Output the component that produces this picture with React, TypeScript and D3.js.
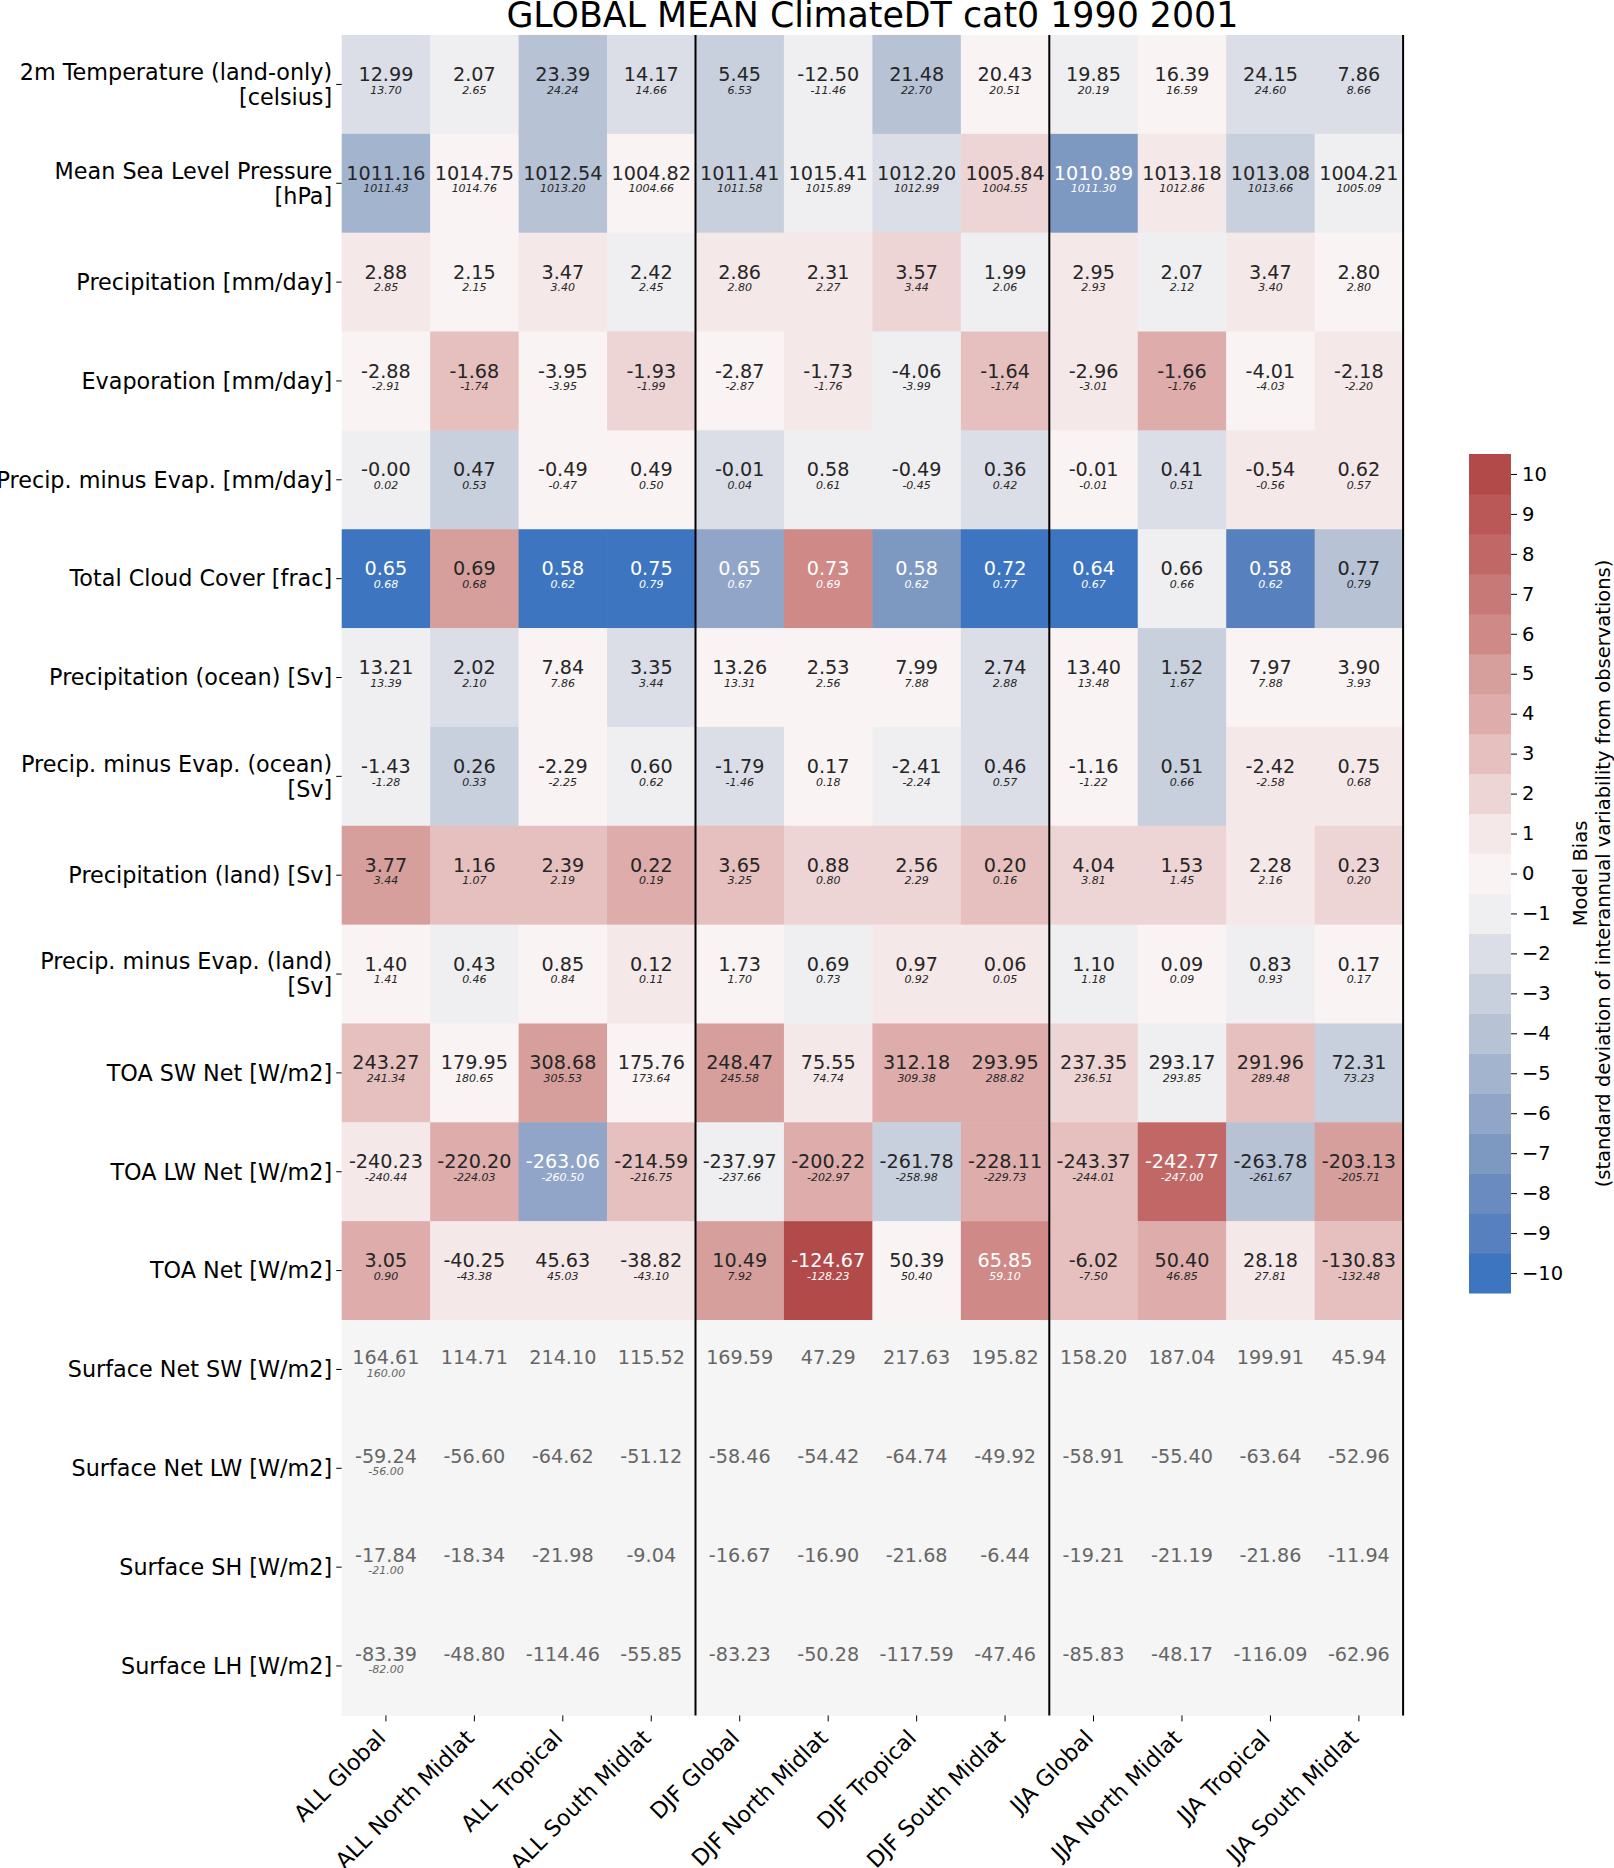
import React, { useEffect, useRef } from 'react';
import * as d3 from 'd3';

const chartTitle = 'GLOBAL MEAN ClimateDT cat0 1990 2001';

const variables = [
  '2m Temperature (land-only)\n[celsius]',
  'Mean Sea Level Pressure\n[hPa]',
  'Precipitation [mm/day]',
  'Evaporation [mm/day]',
  'Precip. minus Evap. [mm/day]',
  'Total Cloud Cover [frac]',
  'Precipitation (ocean) [Sv]',
  'Precip. minus Evap. (ocean)\n[Sv]',
  'Precipitation (land) [Sv]',
  'Precip. minus Evap. (land)\n[Sv]',
  'TOA SW Net [W/m2]',
  'TOA LW Net [W/m2]',
  'TOA Net [W/m2]',
  'Surface Net SW [W/m2]',
  'Surface Net LW [W/m2]',
  'Surface SH [W/m2]',
  'Surface LH [W/m2]',
];

const regions = [
  'ALL Global', 'ALL North Midlat', 'ALL Tropical', 'ALL South Midlat',
  'DJF Global', 'DJF North Midlat', 'DJF Tropical', 'DJF South Midlat',
  'JJA Global', 'JJA North Midlat', 'JJA Tropical', 'JJA South Midlat',
];

// model values (big numbers in each cell)
const modelValues: number[][] = [
  [12.99, 2.07, 23.39, 14.17, 5.45, -12.50, 21.48, 20.43, 19.85, 16.39, 24.15, 7.86],
  [1011.16, 1014.75, 1012.54, 1004.82, 1011.41, 1015.41, 1012.20, 1005.84, 1010.89, 1013.18, 1013.08, 1004.21],
  [2.88, 2.15, 3.47, 2.42, 2.86, 2.31, 3.57, 1.99, 2.95, 2.07, 3.47, 2.80],
  [-2.88, -1.68, -3.95, -1.93, -2.87, -1.73, -4.06, -1.64, -2.96, -1.66, -4.01, -2.18],
  [-0.00, 0.47, -0.49, 0.49, -0.01, 0.58, -0.49, 0.36, -0.01, 0.41, -0.54, 0.62],
  [0.65, 0.69, 0.58, 0.75, 0.65, 0.73, 0.58, 0.72, 0.64, 0.66, 0.58, 0.77],
  [13.21, 2.02, 7.84, 3.35, 13.26, 2.53, 7.99, 2.74, 13.40, 1.52, 7.97, 3.90],
  [-1.43, 0.26, -2.29, 0.60, -1.79, 0.17, -2.41, 0.46, -1.16, 0.51, -2.42, 0.75],
  [3.77, 1.16, 2.39, 0.22, 3.65, 0.88, 2.56, 0.20, 4.04, 1.53, 2.28, 0.23],
  [1.40, 0.43, 0.85, 0.12, 1.73, 0.69, 0.97, 0.06, 1.10, 0.09, 0.83, 0.17],
  [243.27, 179.95, 308.68, 175.76, 248.47, 75.55, 312.18, 293.95, 237.35, 293.17, 291.96, 72.31],
  [-240.23, -220.20, -263.06, -214.59, -237.97, -200.22, -261.78, -228.11, -243.37, -242.77, -263.78, -203.13],
  [3.05, -40.25, 45.63, -38.82, 10.49, -124.67, 50.39, 65.85, -6.02, 50.40, 28.18, -130.83],
  [164.61, 114.71, 214.10, 115.52, 169.59, 47.29, 217.63, 195.82, 158.20, 187.04, 199.91, 45.94],
  [-59.24, -56.60, -64.62, -51.12, -58.46, -54.42, -64.74, -49.92, -58.91, -55.40, -63.64, -52.96],
  [-17.84, -18.34, -21.98, -9.04, -16.67, -16.90, -21.68, -6.44, -19.21, -21.19, -21.86, -11.94],
  [-83.39, -48.80, -114.46, -55.85, -83.23, -50.28, -117.59, -47.46, -85.83, -48.17, -116.09, -62.96],
];

// observed values (small italic numbers)
const _ = null;
const obsValues: (number | null)[][] = [
  [13.70, 2.65, 24.24, 14.66, 6.53, -11.46, 22.70, 20.51, 20.19, 16.59, 24.60, 8.66],
  [1011.43, 1014.76, 1013.20, 1004.66, 1011.58, 1015.89, 1012.99, 1004.55, 1011.30, 1012.86, 1013.66, 1005.09],
  [2.85, 2.15, 3.40, 2.45, 2.80, 2.27, 3.44, 2.06, 2.93, 2.12, 3.40, 2.80],
  [-2.91, -1.74, -3.95, -1.99, -2.87, -1.76, -3.99, -1.74, -3.01, -1.76, -4.03, -2.20],
  [0.02, 0.53, -0.47, 0.50, 0.04, 0.61, -0.45, 0.42, -0.01, 0.51, -0.56, 0.57],
  [0.68, 0.68, 0.62, 0.79, 0.67, 0.69, 0.62, 0.77, 0.67, 0.66, 0.62, 0.79],
  [13.39, 2.10, 7.86, 3.44, 13.31, 2.56, 7.88, 2.88, 13.48, 1.67, 7.88, 3.93],
  [-1.28, 0.33, -2.25, 0.62, -1.46, 0.18, -2.24, 0.57, -1.22, 0.66, -2.58, 0.68],
  [3.44, 1.07, 2.19, 0.19, 3.25, 0.80, 2.29, 0.16, 3.81, 1.45, 2.16, 0.20],
  [1.41, 0.46, 0.84, 0.11, 1.70, 0.73, 0.92, 0.05, 1.18, 0.09, 0.93, 0.17],
  [241.34, 180.65, 305.53, 173.64, 245.58, 74.74, 309.38, 288.82, 236.51, 293.85, 289.48, 73.23],
  [-240.44, -224.03, -260.50, -216.75, -237.66, -202.97, -258.98, -229.73, -244.01, -247.00, -261.67, -205.71],
  [0.90, -43.38, 45.03, -43.10, 7.92, -128.23, 50.40, 59.10, -7.50, 46.85, 27.81, -132.48],
  [160.00, _, _, _, _, _, _, _, _, _, _, _],
  [-56.00, _, _, _, _, _, _, _, _, _, _, _],
  [-21.00, _, _, _, _, _, _, _, _, _, _, _],
  [-82.00, _, _, _, _, _, _, _, _, _, _, _],
];

// model bias in units of interannual std dev (null = no variability available)
const biasValues: (number | null)[][] = [
  [-2, -1, -4, -2, -3, -1, -4, 0, -1, 0, -2, -2],
  [-5, 0, -4, 0, -3, -1, -2, 2, -7, 1, -3, -1],
  [1, 0, 1, -1, 1, 1, 2, -1, 1, -1, 1, 0],
  [0, 3, 0, 2, 0, 1, -1, 3, 1, 4, 0, 1],
  [-1, -3, 0, 0, -2, -1, -1, -2, 0, -2, 1, 1],
  [-10, 5, -10, -10, -6, 6, -7, -10, -10, -1, -9, -4],
  [-1, -2, 0, -2, 0, 0, 0, -2, 0, -3, 0, 0],
  [-1, -3, 0, -1, -2, 0, -1, -2, 0, -3, 1, 1],
  [5, 3, 3, 4, 3, 2, 2, 3, 2, 2, 1, 2],
  [0, -1, 0, 1, 0, -1, 1, 1, -1, 0, -1, 0],
  [3, 0, 5, 0, 5, 1, 4, 4, 2, -1, 3, -3],
  [1, 4, -6, 3, -1, 4, -3, 4, 3, 8, -4, 5],
  [4, 1, 1, 1, 5, 10, 0, 6, 3, 4, 1, 3],
  [_, _, _, _, _, _, _, _, _, _, _, _],
  [_, _, _, _, _, _, _, _, _, _, _, _],
  [_, _, _, _, _, _, _, _, _, _, _, _],
  [_, _, _, _, _, _, _, _, _, _, _, _],
];

const biasTicks = [-10, -9, -8, -7, -6, -5, -4, -3, -2, -1, 0, 1, 2, 3, 4, 5, 6, 7, 8, 9, 10];

// 21 discrete colours, -10 ... 10
const palette = [
  '#3e75c0', '#5780be', '#698bbf', '#7d98c1', '#90a5c7', '#a2b4ce', '#b7c2d5',
  '#c9d0dd', '#dbdee6', '#efeff1', '#f9f3f3', '#f5e8e8', '#eed5d5', '#e5c0be',
  '#ddacab', '#d69f9c', '#cf8987', '#c77977', '#c16867', '#ba5858', '#b24a4a',
];

// vertical separators drawn after these region indices
const separators = [4, 8, 12];

const FONT = '"DejaVu Sans", sans-serif';

const fmt = (v: number) => (v < 0 || Object.is(v, -0) ? '-' : '') + Math.abs(v).toFixed(2);

const luminance = (c: string) => {
  const { r, g, b } = d3.rgb(c);
  const lin = (v: number) => {
    const s = v / 255;
    return s <= 0.03928 ? s / 12.92 : Math.pow((s + 0.055) / 1.055, 2.4);
  };
  return 0.2126 * lin(r) + 0.7152 * lin(g) + 0.0722 * lin(b);
};

const BiasHeatmap: React.FC = () => {
  const svgRef = useRef<SVGSVGElement>(null);

  useEffect(() => {
    if (!svgRef.current) return;

    const width = 1614;
    const height = 1868;
    const left = 341.7, right = 1403.1, top = 35, bottom = 1715.4;

    const svg = d3.select(svgRef.current)
      .attr('width', width)
      .attr('height', height);

    svg.selectAll('*').remove();

    const x = d3.scaleBand<string>().domain(regions).range([left, right]);
    const y = d3.scaleBand<string>().domain(variables).range([top, bottom]);
    const color = d3.scaleQuantize<string>().domain([-10.5, 10.5]).range(palette);

    const cellW = x.bandwidth();
    const cellH = y.bandwidth();

    const cells = variables.flatMap((v, r) => regions.map((reg, c) => ({
      v, reg,
      model: modelValues[r][c],
      obs: obsValues[r][c],
      bias: biasValues[r][c],
    })));

    const g = svg.append('g');

    g.selectAll('rect.cell')
      .data(cells)
      .enter().append('rect')
      .attr('class', 'cell')
      .attr('x', d => x(d.reg)!)
      .attr('y', d => y(d.v)!)
      .attr('width', cellW + 0.5)
      .attr('height', cellH + 0.5)
      .attr('fill', d => d.bias === null ? '#f5f5f5' : color(d.bias));

    const textColor = (d: typeof cells[number]) => {
      if (d.bias === null) return '#666666';
      return luminance(color(d.bias)) <= 0.408 ? '#ffffff' : '#262626';
    };

    g.selectAll('text.model')
      .data(cells)
      .enter().append('text')
      .attr('class', 'model')
      .attr('x', d => x(d.reg)! + cellW / 2)
      .attr('y', d => y(d.v)! + cellH / 2 + (d.bias === null ? -5.2 : -3.4))
      .attr('text-anchor', 'middle')
      .style('font-family', FONT)
      .style('font-size', '19.2px')
      .attr('fill', textColor)
      .text(d => fmt(d.model));

    g.selectAll('text.obs')
      .data(cells.filter(d => d.obs !== null))
      .enter().append('text')
      .attr('class', 'obs')
      .attr('x', d => x(d.reg)! + cellW / 2)
      .attr('y', d => y(d.v)! + cellH / 2 + (d.bias === null ? 7.2 : 9.2))
      .attr('text-anchor', 'middle')
      .style('font-family', FONT)
      .style('font-size', '11px')
      .style('font-style', 'italic')
      .attr('fill', textColor)
      .text(d => fmt(d.obs as number));

    // separators
    g.selectAll('line.sep')
      .data(separators)
      .enter().append('line')
      .attr('class', 'sep')
      .attr('x1', i => left + i * x.step())
      .attr('x2', i => left + i * x.step())
      .attr('y1', top)
      .attr('y2', bottom)
      .attr('stroke', '#000')
      .attr('stroke-width', 2);

    // y axis
    const yAxis = svg.append('g')
      .attr('transform', `translate(${left},0)`)
      .call(d3.axisLeft(y).tickSize(5.5).tickPadding(4));
    yAxis.select('.domain').remove();
    yAxis.selectAll('line').attr('stroke', '#000');
    yAxis.selectAll<SVGTextElement, string>('text')
      .style('font-family', FONT)
      .style('font-size', '22.3px')
      .attr('fill', '#000')
      .each(function (d) {
        const lines = d.split('\n');
        const t = d3.select(this);
        t.text(null).attr('dy', null);
        lines.forEach((line, i) => {
          t.append('tspan')
            .attr('x', -9.5)
            .attr('y', (i - (lines.length - 1) / 2) * 25)
            .attr('dy', '0.35em')
            .text(line);
        });
      });

    // x axis
    const xAxis = svg.append('g')
      .attr('transform', `translate(0,${bottom})`)
      .call(d3.axisBottom(x).tickSize(6));
    xAxis.select('.domain').remove();
    xAxis.selectAll('line').attr('stroke', '#000');
    xAxis.selectAll('text')
      .attr('x', 0)
      .attr('y', 0)
      .attr('dy', null)
      .attr('transform', 'translate(1,24) rotate(-45)')
      .attr('text-anchor', 'end')
      .style('font-family', FONT)
      .style('font-size', '22.3px')
      .attr('fill', '#000');

    // title
    svg.append('text')
      .attr('x', (left + right) / 2)
      .attr('y', 27)
      .attr('text-anchor', 'middle')
      .style('font-family', FONT)
      .style('font-size', '34.8px')
      .attr('fill', '#000')
      .text(chartTitle);

    // colorbar
    const cbX = 1469, cbW = 42;
    const yc = d3.scaleLinear().domain([-10.5, 10.5]).range([1293, 454]);

    svg.append('g')
      .selectAll('rect')
      .data(biasTicks)
      .enter().append('rect')
      .attr('x', cbX)
      .attr('y', d => yc(d + 0.5))
      .attr('width', cbW)
      .attr('height', d => yc(d - 0.5) - yc(d + 0.5) + 0.5)
      .attr('fill', d => color(d));

    const cAxis = svg.append('g')
      .attr('transform', `translate(${cbX + cbW},0)`)
      .call(d3.axisRight(yc).tickValues(biasTicks).tickSize(6).tickPadding(5)
        .tickFormat(d => (+d < 0 ? '\u2212' + Math.abs(+d) : String(d))));
    cAxis.select('.domain').remove();
    cAxis.selectAll('line').attr('stroke', '#000');
    cAxis.selectAll('text')
      .style('font-family', FONT)
      .style('font-size', '19.5px')
      .attr('fill', '#000');

    const cbLabel = ['Model Bias', '(standard deviation of interannual variability from observations)'];
    svg.append('g')
      .selectAll('text')
      .data(cbLabel)
      .enter().append('text')
      .attr('transform', (d, i) => `translate(${1587 + i * 23},873.5) rotate(-90)`)
      .attr('text-anchor', 'middle')
      .style('font-family', FONT)
      .style('font-size', '19.5px')
      .attr('fill', '#000')
      .text(d => d);
  }, []);

  return (
    <svg ref={svgRef} style={{ position: 'absolute', left: 0, top: 0, background: '#fff' }}></svg>
  );
};

const App: React.FC = () => <BiasHeatmap />;

export default App;
